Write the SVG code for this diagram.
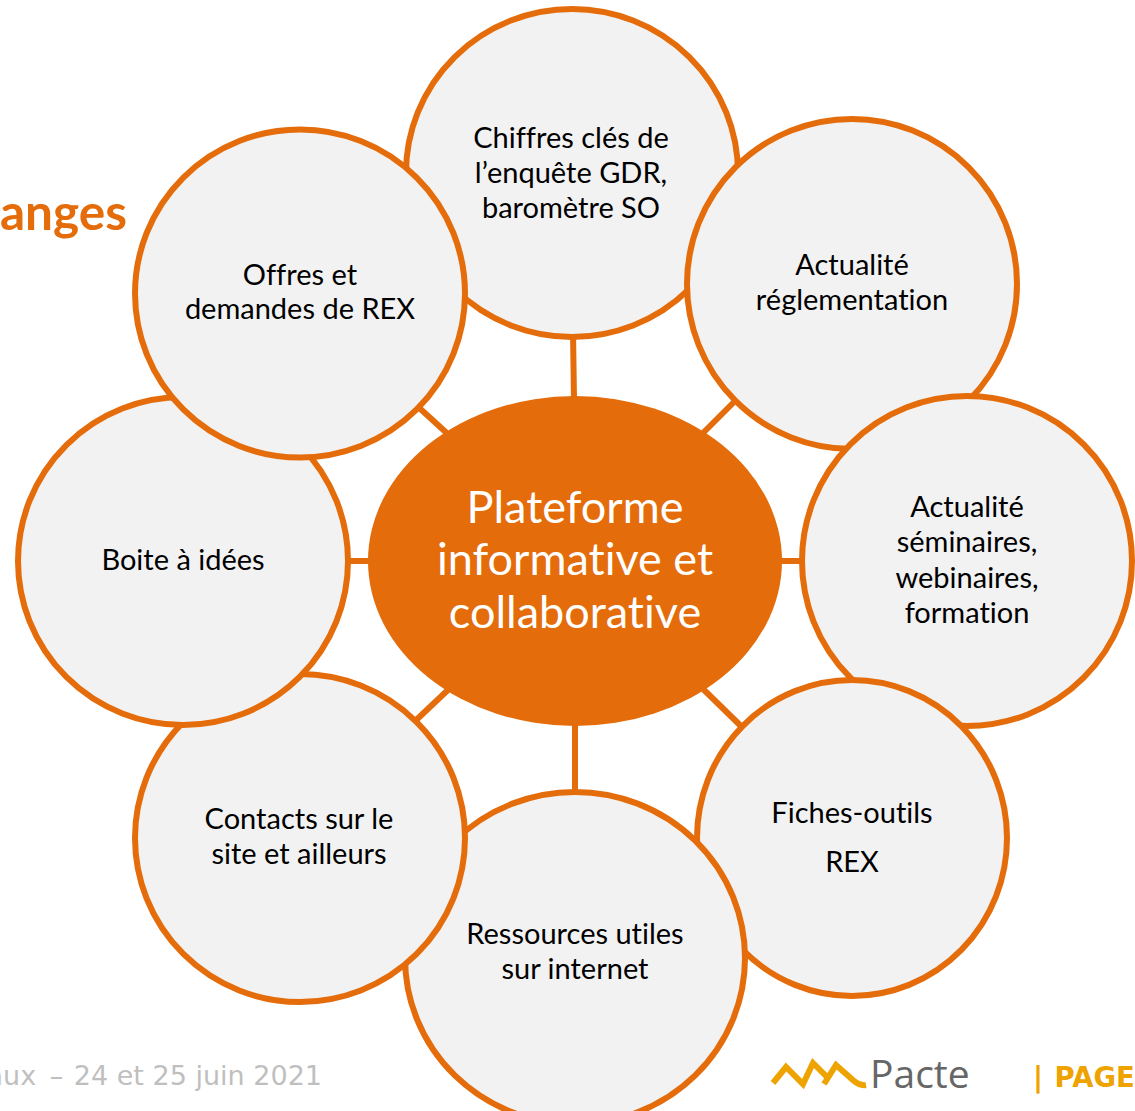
<svg xmlns="http://www.w3.org/2000/svg" width="1135" height="1111" viewBox="0 0 1135 1111">
<style>
text{font-variant-ligatures:none}
.n{fill:#f2f2f2;stroke:#e46c0a;stroke-width:6}
.t{font-family:"Lato","Liberation Sans",sans-serif;font-size:29px;fill:#000;text-anchor:middle}
.c{stroke:#e46c0a;stroke-width:6;fill:none}
.h{font-family:"Lato","Liberation Sans",sans-serif;font-size:45px;fill:#fff;text-anchor:middle}
.l{stroke:#eea300;stroke-width:6;fill:none}
</style>
<rect width="1135" height="1111" fill="#fff"/>
<text x="0" y="230" font-family="Lato,'Liberation Sans',sans-serif" font-weight="700" font-size="49.5" fill="#e46c0a">anges</text>
<text x="322" y="1085" text-anchor="end" font-family="'DejaVu Sans',sans-serif" font-size="27" fill="#bfbfbf">aux<tspan dx="5"> –</tspan><tspan dx="2"> 24 et 25 juin 2021</tspan></text>
<g id="logo">
<path class="l" d="M773 1083L786 1067L803 1084L813 1063L827 1077"/>
<path class="l" d="M824 1084L836 1065L854 1081Q860 1086 866 1085"/>
<text x="870" y="1088" font-family="'Open Sans',sans-serif" font-size="39" fill="#666">Pacte</text>
</g>
<text x="1033" y="1087" font-family="'DejaVu Sans',sans-serif" font-weight="700" font-size="27.5" fill="#eea300">|<tspan dx="2"> PAGE</tspan></text>
<g id="connectors">
<path class="c" d="M573 330L574 400"/>
<path class="c" d="M700 436L740 396"/>
<path class="c" d="M775 561H810"/>
<path class="c" d="M700 686L745 730"/>
<path class="c" d="M575 720V795"/>
<path class="c" d="M450 688L412 724"/>
<path class="c" d="M345 561H375"/>
<path class="c" d="M450 436L415 404"/>
</g>
<g id="chiffres"><ellipse class="n" cx="572" cy="173" rx="166" ry="164"/>
<text class="t"><tspan x="571" y="148">Chiffres clés de</tspan><tspan x="571" y="183">l’enquête GDR,</tspan><tspan x="571" y="218">baromètre SO</tspan></text></g>
<g id="reglementation"><circle class="n" cx="852" cy="284" r="165"/>
<text class="t"><tspan x="852" y="275">Actualité</tspan><tspan x="852" y="310">réglementation</tspan></text></g>
<g id="seminaires"><circle class="n" cx="967" cy="561" r="165"/>
<text class="t"><tspan x="967" y="517">Actualité</tspan><tspan x="967" y="552">séminaires,</tspan><tspan x="967" y="588">webinaires,</tspan><tspan x="967" y="623">formation</tspan></text></g>
<g id="fiches"><ellipse class="n" cx="852" cy="838" rx="155" ry="158"/>
<text class="t"><tspan x="852" y="823">Fiches-outils</tspan><tspan x="852" y="872">REX</tspan></text></g>
<g id="ressources"><ellipse class="n" cx="575" cy="958" rx="170" ry="166"/>
<text class="t"><tspan x="575" y="944">Ressources utiles</tspan><tspan x="575" y="979">sur internet</tspan></text></g>
<g id="contacts"><ellipse class="n" cx="300" cy="838" rx="165" ry="164"/>
<text class="t"><tspan x="299" y="829">Contacts sur le</tspan><tspan x="299" y="864">site et ailleurs</tspan></text></g>
<g id="boite"><ellipse class="n" cx="183" cy="561" rx="165" ry="164"/>
<text class="t" x="183" y="570">Boite à idées</text></g>
<g id="offres"><ellipse class="n" cx="300" cy="293.5" rx="165" ry="164"/>
<text class="t"><tspan x="300" y="285">Offres et</tspan><tspan x="300" y="319">demandes de REX</tspan></text></g>
<g id="centre"><ellipse cx="575" cy="561" rx="207" ry="165" fill="#e46c0a"/>
<text class="h"><tspan x="575" y="523">Plateforme</tspan><tspan x="575" y="575">informative et</tspan><tspan x="575" y="628">collaborative</tspan></text></g>
</svg>
